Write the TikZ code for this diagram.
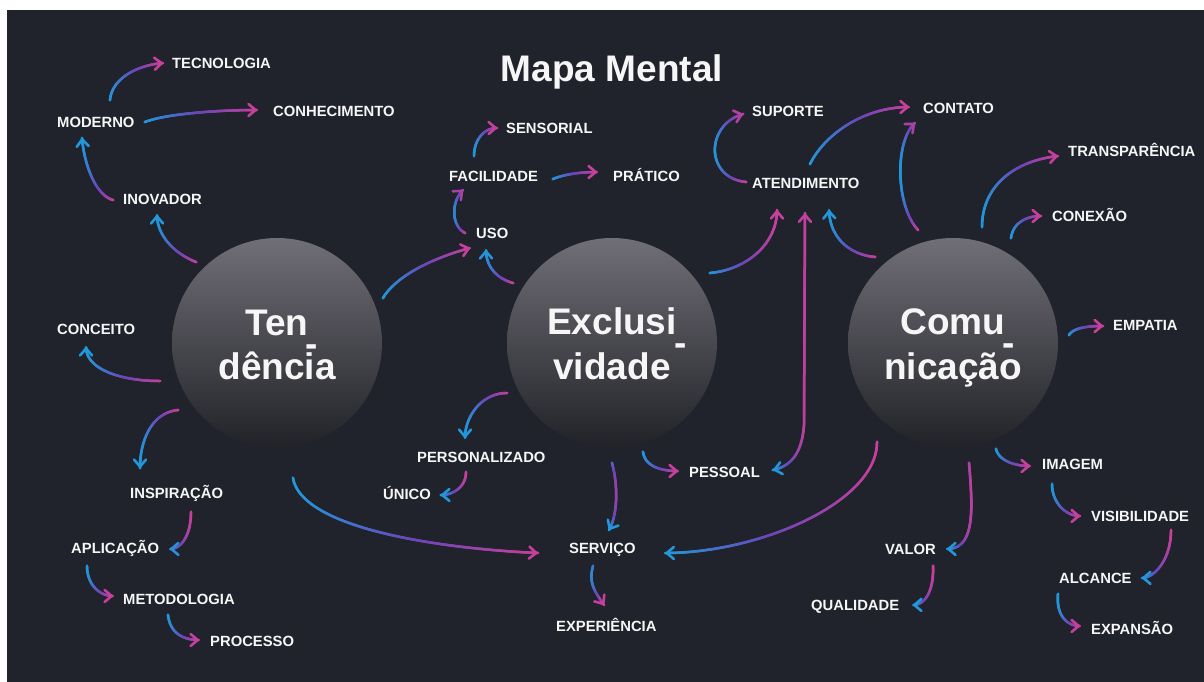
\documentclass[tikz,border=0pt]{standalone}
\usepackage{fontspec}
\setmainfont{Liberation Sans}
\usetikzlibrary{decorations.markings,arrows.meta}
\definecolor{bgc}{RGB}{32,35,43}
\definecolor{gB}{RGB}{33,152,218}
\definecolor{gPu}{RGB}{108,70,184}
\definecolor{gM}{RGB}{198,64,156}
\definecolor{ctop}{RGB}{112,110,118}
\definecolor{cbot}{RGB}{33,34,40}
\definecolor{txt}{RGB}{246,246,246}
\newcommand\gsetcol[2]{%
  \pgfgettransformentries{\gTa}{\gTb}{\gTc}{\gTd}{\gTx}{\gTy}%
  \pgfmathsetmacro\gP{max(0,min(100,(\gTx-#1)/(#2-#1)*100))}%
  \ifdim\gP pt<50pt
    \pgfmathsetmacro\gQ{2*\gP}\colorlet{gcur}{gPu!\gQ!gB}%
  \else
    \pgfmathsetmacro\gQ{2*\gP-100}\colorlet{gcur}{gM!\gQ!gPu}%
  \fi}
\newcommand\gradseg[2]{\gsetcol{#1}{#2}\draw[gcur,line width=2.5pt,line cap=round] (-0.4pt,0) -- (0.4pt,0);}
\newcommand\gradtip[2]{\gsetcol{#1}{#2}\pgfsetcolor{gcur}\arrow[gcur]{>}}
\newcommand\gradtipr[2]{\gsetcol{#1}{#2}\pgfsetcolor{gcur}\arrowreversed[gcur]{>}}
\newcommand\lblfont{\bfseries\fontsize{14.8}{16}\selectfont}
\newcommand\bigfont{\bfseries\fontsize{37}{40}\selectfont}
\newcommand\lowhyph{\raisebox{-21pt}[0pt][0pt]{\hspace*{-3pt}-}}
\tikzset{
  >={Straight Barb[length=7pt,width=12pt,line width=2.6pt,round]},
  lbl/.style={text=txt, font=\lblfont, inner sep=0pt, text height=10.6pt, text depth=0pt, anchor=west},
  big/.style={text=txt, font=\bigfont, inner sep=0pt, anchor=base},
  hyph/.style={text=txt, font=\bigfont, inner sep=0pt, anchor=base west},
  hub/.style={circle, minimum size=210pt, inner sep=0pt, top color=ctop, bottom color=cbot, draw=none},
  gconn/.style 2 args={
    postaction={decorate, decoration={markings,
      mark=between positions 0 and 1 step 0.6pt with {\gradseg{#1}{#2}}}},
    postaction={decorate, decoration={markings,
      mark=at position 0.998 with {\gradtip{#1}{#2}}}}},
  gconnb/.style 2 args={gconn={#1}{#2},
    postaction={decorate, decoration={markings,
      mark=at position 0.001 with {\gradtipr{#1}{#2}}}}},
}
\begin{document}
\begin{tikzpicture}[x=1pt,y=-1pt]
\useasboundingbox (0,0) rectangle (1204,682);
\fill[white] (0,0) rectangle (1204,682);
\fill[bgc] (7,10) rectangle (1204,682);
% title
\node[big] (title) at (612,82) {Mapa Mental};
% hubs
\node[hub] (tend) at (277,343) {};
\node[hub] (excl) at (612,343) {};
\node[hub] (comu) at (953,343) {};
\node[big] (tendA) at (277,335) {Ten};
\node[big] (tendB) at (277,379) {dência};
\node[hyph] (tendH) at (tendA.base east) {\lowhyph};
\node[big] (exclA) at (612,334) {Exclusi};
\node[big] (exclB) at (612,379) {vidade};
\node[hyph] (exclH) at (exclA.base east) {\lowhyph};
\node[big] (comuA) at (953,334) {Comu};
\node[big] (comuB) at (953,379) {nicação};
\node[hyph] (comuH) at (comuA.base east) {\lowhyph};
% labels
\node[lbl] (tecnologia) at (172,63) {TECNOLOGIA};
\node[lbl] (conhecimento) at (273,111) {CONHECIMENTO};
\node[lbl] (moderno) at (57,122) {MODERNO};
\node[lbl] (inovador) at (123,199) {INOVADOR};
\node[lbl] (conceito) at (57,329) {CONCEITO};
\node[lbl] (inspiracao) at (130,493) {INSPIRAÇÃO};
\node[lbl] (aplicacao) at (71,548) {APLICAÇÃO};
\node[lbl] (metodologia) at (123,599) {METODOLOGIA};
\node[lbl] (processo) at (210,641) {PROCESSO};
\node[lbl] (sensorial) at (506,128) {SENSORIAL};
\node[lbl] (facilidade) at (449,176) {FACILIDADE};
\node[lbl] (pratico) at (613,176) {PRÁTICO};
\node[lbl] (uso) at (476,233) {USO};
\node[lbl] (personalizado) at (417,457) {PERSONALIZADO};
\node[lbl] (unico) at (383,494) {ÚNICO};
\node[lbl] (servico) at (569,548) {SERVIÇO};
\node[lbl] (experiencia) at (556,626) {EXPERIÊNCIA};
\node[lbl] (pessoal) at (689,472) {PESSOAL};
\node[lbl] (suporte) at (752,111) {SUPORTE};
\node[lbl] (atendimento) at (752,183) {ATENDIMENTO};
\node[lbl] (contato) at (923,108) {CONTATO};
\node[lbl] (transparencia) at (1068,151) {TRANSPARÊNCIA};
\node[lbl] (conexao) at (1052,216) {CONEXÃO};
\node[lbl] (empatia) at (1113,325) {EMPATIA};
\node[lbl] (imagem) at (1042,464) {IMAGEM};
\node[lbl] (visibilidade) at (1091,516) {VISIBILIDADE};
\node[lbl] (valor) at (885,549) {VALOR};
\node[lbl] (alcance) at (1059,578) {ALCANCE};
\node[lbl] (qualidade) at (811,605) {QUALIDADE};
\node[lbl] (expansao) at (1091,629) {EXPANSÃO};
% connectors
\path[gconn={109}{163}] ([shift={(53,-22)}]moderno.west) .. controls +(2,-22) and +(-25,2) .. ([shift={(-9,0)}]tecnologia.west);
\path[gconn={145}{257}] ([shift={(88,0)}]moderno.west) .. controls +(20,-8) and +(-40,0) .. ([shift={(-16,-1)}]conhecimento.west);
\path[gconn={82}{113}] ([shift={(-10,1)}]inovador.west) .. controls +(-18,-5) and +(2,25) .. ([shift={(25,16)}]moderno.west);
\path[gconn={157}{197}] ([shift={(-81,-81)}]tend.center) .. controls +(-25,-10) and +(0,18) .. ([shift={(34,16)}]inovador.west);
\path[gconn={86}{160}] ([shift={(-117,38)}]tend.center) .. controls +(-40,0) and +(0,22) .. ([shift={(29,18)}]conceito.west);
\path[gconn={140}{178}] ([shift={(-99,67)}]tend.center) .. controls +(-28,3) and +(0,-25) .. ([shift={(10,-25)}]inspiracao.west);
\path[gconn={169}{191}] ([shift={(61,19)}]inspiracao.west) .. controls +(0,22) and +(12,0) .. ([shift={(99,1)}]aplicacao.west);
\path[gconn={87}{113}] ([shift={(16,18)}]aplicacao.west) .. controls +(0,18) and +(-14,0) .. ([shift={(-10,-3)}]metodologia.west);
\path[gconn={168}{199}] ([shift={(45,16)}]metodologia.west) .. controls +(2,18) and +(-16,0) .. ([shift={(-11,-1)}]processo.west);
\path[gconn={293}{538}] ([shift={(16,135)}]tend.center) .. controls +(8,48) and +(-110,-5) .. ([shift={(-31,5)}]servico.west);
\path[gconn={383}{470}] ([shift={(106,-45)}]tend.center) .. controls +(15,-25) and +(-30,8) .. ([shift={(-6,15)}]uso.west);
\path[gconn={485}{513}] ([shift={(-99,-60)}]excl.center) .. controls +(-18,-5) and +(0,15) .. ([shift={(10,17)}]uso.west);
\path[gconn={453}{465}] ([shift={(-11,0)}]uso.west) .. controls +(-15,-8) and +(-11,10) .. ([shift={(14,14)}]facilidade.west);
\path[gconn={474}{497}] ([shift={(25,-20)}]facilidade.west) .. controls +(0,-15) and +(-14,0) .. ([shift={(-9,0)}]sensorial.west);
\path[gconn={553}{597}] ([shift={(104,3)}]facilidade.west) .. controls +(12,-5) and +(-15,0) .. ([shift={(-16,-4)}]pratico.west);
\path[gconn={714}{746}] ([shift={(-6,-1)}]atendimento.west) .. controls +(-41,-4) and +(-38,11) .. ([shift={(-9,3)}]suporte.west);
\path[gconn={810}{909}] ([shift={(58,-19)}]atendimento.west) .. controls +(15,-30) and +(-45,0) .. ([shift={(-14,-1)}]contato.west);
\path[gconn={900}{918}] ([shift={(-35,-113)}]comu.center) .. controls +(-23,-25) and +(-20,17) .. ([shift={(-8,15)}]contato.west);
\path[gconn={710}{777}] ([shift={(98,-70)}]excl.center) .. controls +(35,-3) and +(0,35) .. ([shift={(25,27)}]atendimento.west);
\path[gconn={829}{875}] ([shift={(-78,-86)}]comu.center) .. controls +(-23,-2) and +(1,30) .. ([shift={(77,27)}]atendimento.west);
\path[gconnb={773}{806}] ([shift={(84,-2)}]pessoal.west) .. controls +(19,-4) and +(-2,27) .. (804,425) -- ([shift={(53,30)}]atendimento.west);
\path[gconn={465}{507}] ([shift={(-105,50)}]excl.center) .. controls +(-25,0) and +(0,-22) .. ([shift={(48,-19)}]personalizado.west);
\path[gconn={441}{466}] ([shift={(49,15)}]personalizado.west) .. controls +(0,15) and +(12,0) .. ([shift={(58,1)}]unico.west);
\path[gconn={643}{678}] ([shift={(31,109)}]excl.center) .. controls +(2,14) and +(-18,0) .. ([shift={(-11,-1)}]pessoal.west);
\path[gconn={609}{619}] ([shift={(0,120)}]excl.center) .. controls +(6,22) and +(9,-16) .. ([shift={(40,-18)}]servico.west);
\path[gconn={665}{877}] ([shift={(-76,99)}]comu.center) .. controls +(0,60) and +(95,0) .. ([shift={(96,5)}]servico.west);
\path[gconn={590}{604}] ([shift={(24,18)}]servico.west) .. controls +(-5,18) and +(-8,-12) .. ([shift={(48,-21)}]experiencia.west);
\path[gconn={947}{973}] ([shift={(16,120)}]comu.center) .. controls +(4,47) and +(28,0) .. ([shift={(62,0)}]valor.west);
\path[gconn={913}{933}] ([shift={(48,17)}]valor.west) .. controls +(1,25) and +(12,0) .. ([shift={(102,0)}]qualidade.west);
\path[gconn={996}{1030}] ([shift={(43,106)}]comu.center) .. controls +(3,12) and +(-15,0) .. ([shift={(-12,2)}]imagem.west);
\path[gconn={1052}{1080}] ([shift={(10,20)}]imagem.west) .. controls +(0,18) and +(-15,0) .. ([shift={(-11,0)}]visibilidade.west);
\path[gconn={1142}{1171}] ([shift={(80,14)}]visibilidade.west) .. controls +(0,30) and +(12,0) .. ([shift={(83,0)}]alcance.west);
\path[gconn={1058}{1080}] ([shift={(-1,16)}]alcance.west) .. controls +(-2,20) and +(-14,0) .. ([shift={(-11,-3)}]expansao.west);
\path[gconn={982}{1058}] ([shift={(29,-116)}]comu.center) .. controls +(0,-40) and +(-45,5) .. ([shift={(-10,5)}]transparencia.west);
\path[gconn={1011}{1041}] ([shift={(58,-105)}]comu.center) .. controls +(2,-15) and +(-15,0) .. ([shift={(-11,0)}]conexao.west);
\path[gconn={1069}{1103}] ([shift={(116,-8)}]comu.center) .. controls +(5,-8) and +(-12,0) .. ([shift={(-10,1)}]empatia.west);
\end{tikzpicture}
\end{document}
